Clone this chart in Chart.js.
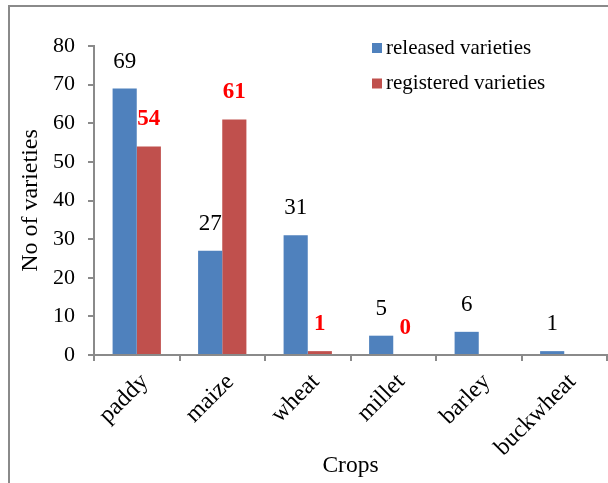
<!DOCTYPE html>
<html>
<head>
<meta charset="utf-8">
<script src="https://cdn.jsdelivr.net/npm/chart.js@4.4.1/dist/chart.umd.min.js"></script>
<style>
  html, body { margin: 0; padding: 0; background: #fff; }
  #wrap { position: relative; width: 608px; height: 483px; overflow: hidden; }
  #frame { position: absolute; left: 8px; top: 5px; width: 700px; height: 600px;
           border-left: 2px solid #8a8a8a; border-top: 2px solid #8a8a8a; }
  canvas { position: absolute; left: 0; top: 0; }
</style>
</head>
<body>
<div id="wrap">
  <div id="frame"></div>
  <canvas id="c" width="608" height="483"></canvas>
</div>
<script>
const categories = ["paddy", "maize", "wheat", "millet", "barley", "buckwheat"];
const released = [69, 27, 31, 5, 6, 1];
const registered = [54, 61, 1, 0, null, null];
const yTicks = [0, 10, 20, 30, 40, 50, 60, 70, 80];

const serif = "'Liberation Serif', 'Times New Roman', serif";

const valueLabels = {
  id: 'valueLabels',
  afterDatasetsDraw(chart) {
    const ctx = chart.ctx;
    chart.data.datasets.forEach((ds, i) => {
      const meta = chart.getDatasetMeta(i);
      meta.data.forEach((bar, j) => {
        const v = ds.data[j];
        if (v === null || v === undefined) return;
        ctx.save();
        ctx.textAlign = 'center';
        ctx.textBaseline = 'middle';
        if (i === 0) {
          ctx.font = "23px " + serif;
          ctx.fillStyle = '#000';
        } else {
          ctx.font = "bold 23px " + serif;
          ctx.fillStyle = '#ff0000';
        }
        ctx.fillText(String(v), bar.x, bar.y - 27);
        ctx.restore();
      });
    });
  }
};

const customLegend = {
  id: 'customLegend',
  afterDraw(chart) {
    const ctx = chart.ctx;
    const x0 = 372, y0 = 48, gap = 35.5;
    chart.data.datasets.forEach((ds, i) => {
      const y = y0 + i * gap;
      ctx.save();
      ctx.fillStyle = ds.backgroundColor;
      ctx.fillRect(x0, y - 5, 10, 10);
      ctx.fillStyle = '#000';
      ctx.font = "21px " + serif;
      ctx.textAlign = 'left';
      ctx.textBaseline = 'middle';
      ctx.fillText(ds.label, x0 + 14, y);
      ctx.restore();
    });
  }
};

new Chart(document.getElementById('c'), {
  type: 'bar',
  data: {
    labels: categories,
    datasets: [
      { label: 'released varieties', data: released, backgroundColor: '#4F81BD',
        categoryPercentage: 0.565, barPercentage: 1.0 },
      { label: 'registered varieties', data: registered, backgroundColor: '#C0504D',
        categoryPercentage: 0.565, barPercentage: 1.0 }
    ]
  },
  options: {
    responsive: false,
    animation: false,
    devicePixelRatio: 1,
    layout: { padding: { left: 0, right: 1, top: 46, bottom: 0 } },
    plugins: {
      legend: { display: false },
      tooltip: { enabled: false }
    },
    scales: {
      x: {
        grid: { drawOnChartArea: false, drawTicks: true, tickLength: 6, color: '#8a8a8a', lineWidth: 2, offset: true },
        border: { color: '#8a8a8a', width: 2 },
        ticks: { color: '#000', font: { family: serif, size: 24 }, maxRotation: 45, minRotation: 45, padding: 7, labelOffset: 8 },
        title: { display: true, text: 'Crops', color: '#000', font: { family: serif, size: 23.5 }, padding: { top: 0, bottom: 3 } },
        afterFit(scale) { scale.height = 128; }
      },
      y: {
        min: 0, max: 80,
        afterBuildTicks(scale) { scale.ticks = yTicks.map(v => ({ value: v })); },
        grid: { drawOnChartArea: false, drawTicks: true, tickLength: 6, color: '#8a8a8a', lineWidth: 2 },
        border: { color: '#8a8a8a', width: 2 },
        ticks: { color: '#000', font: { family: serif, size: 22 }, padding: 13 },
        title: { display: true, text: 'No of varieties', color: '#000', font: { family: serif, size: 24 }, padding: { top: 16, bottom: 0 } },
        afterFit(scale) { scale.width = 94; }
      }
    }
  },
  plugins: [valueLabels, customLegend]
});
</script>
</body>
</html>
